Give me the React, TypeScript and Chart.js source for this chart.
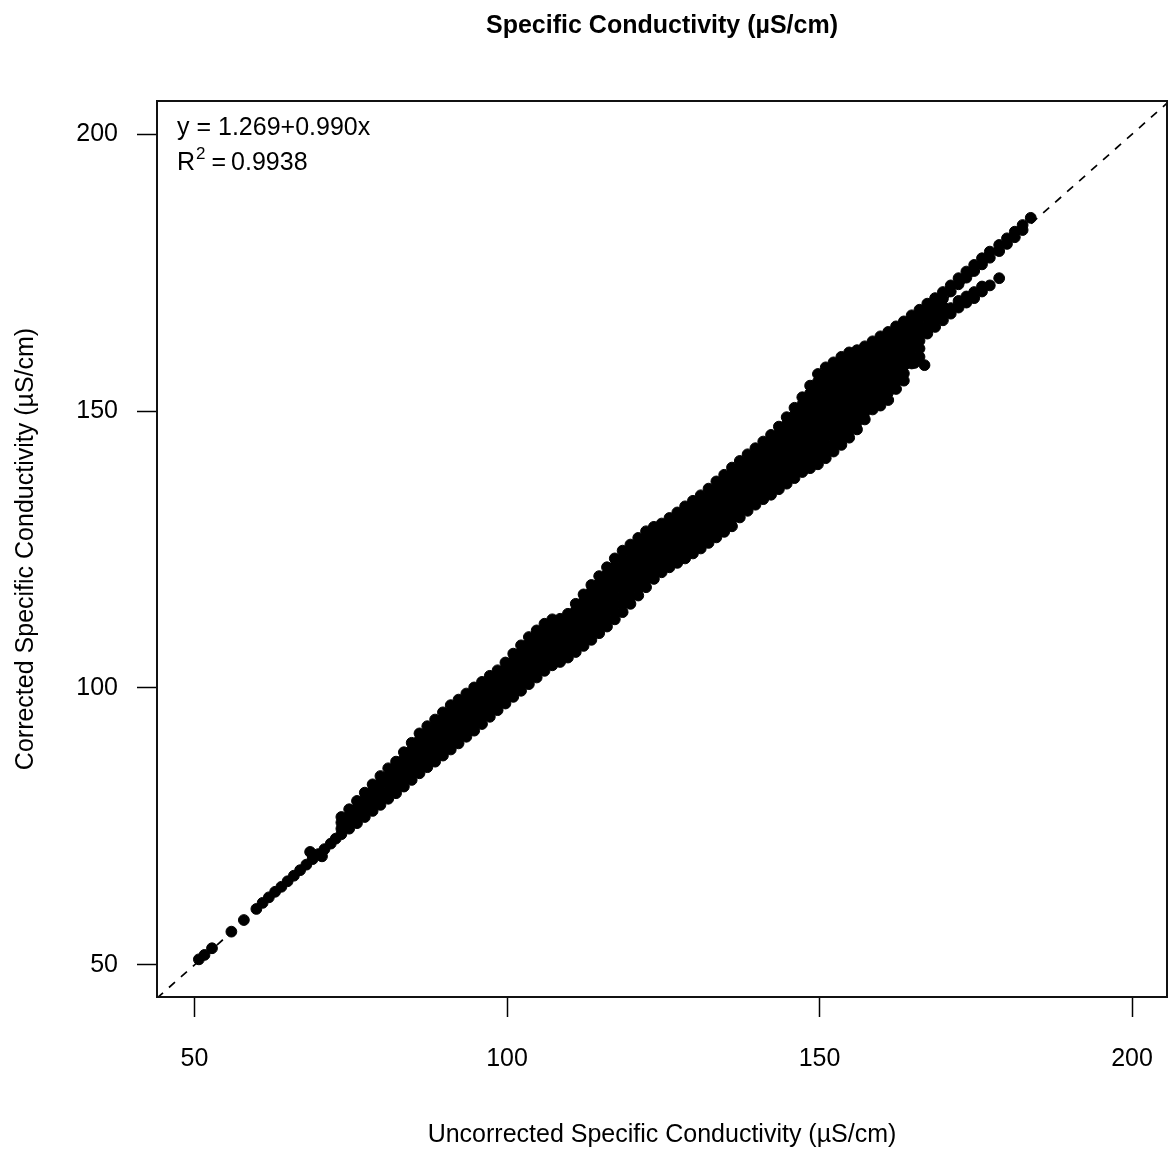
import React, { useEffect, useRef } from "react";
import { Chart, registerables } from "chart.js";

Chart.register(...registerables);

// ---- axis ticks ----
const xTicks = [50, 100, 150, 200];
const yTicks = [50, 100, 150, 200];

// ---- text ----
const chartTitle = "Specific Conductivity (µS/cm)";
const xTitle = "Uncorrected Specific Conductivity (µS/cm)";
const yTitle = "Corrected Specific Conductivity (µS/cm)";
const fitEquation = "y = 1.269+0.990x";
const r2Value = "0.9938";

// ---- 1:1 reference line end points ----
const oneToOne = [44, 206];

// ---- sparse low-end observations ----
const leadX = [50.7, 51.6, 52.8, 55.9, 57.9, 59.9, 60.9, 61.9, 62.9, 63.9, 64.9, 65.9, 66.9, 67.9, 68.5, 68.9, 69.8, 70.4, 70.8, 71.8, 72.6];
const leadY = [51.0, 51.8, 53.0, 56.0, 58.1, 60.1, 61.2, 62.2, 63.2, 64.1, 65.1, 66.1, 67.1, 68.1, 70.4, 69.1, 70.0, 69.6, 70.9, 71.9, 72.8];

// ---- dense cloud: [uncorrected, corrected values ...] ----
const cloudColumns: number[][] = [
  [73.5, 73.6, 74.6, 75.7, 76.7],
  [74.75, 74.6, 75.8, 76.9, 78.1],
  [76, 75.6, 76.9, 78.3, 79.6],
  [77.25, 76.7, 77.8, 78.9, 80.0, 81.1],
  [78.5, 77.8, 79.0, 80.2, 81.4, 82.6],
  [79.75, 78.9, 80.2, 81.5, 82.8, 84.1],
  [81, 80.0, 81.4, 82.8, 84.1, 85.5],
  [82.25, 81.0, 82.1, 83.3, 84.4, 85.6, 86.7],
  [83.5, 82.2, 83.4, 84.7, 85.9, 87.2, 88.4],
  [84.75, 83.4, 84.7, 86.1, 87.4, 88.8, 90.1],
  [86, 84.6, 85.8, 87.0, 88.2, 89.4, 90.6, 91.8],
  [87.25, 85.7, 86.9, 88.2, 89.4, 90.6, 91.9, 93.1],
  [88.5, 86.7, 88.0, 89.2, 90.5, 91.8, 93.0, 94.3],
  [89.75, 87.8, 89.1, 90.4, 91.7, 93.0, 94.3, 95.6],
  [91, 88.9, 90.2, 91.6, 92.9, 94.2, 95.6, 96.9],
  [92.25, 90.0, 91.3, 92.6, 94.0, 95.3, 96.6, 97.9],
  [93.5, 91.2, 92.5, 93.8, 95.1, 96.4, 97.7, 99.0],
  [94.75, 92.3, 93.6, 94.9, 96.2, 97.5, 98.8, 100.1],
  [96, 93.5, 94.8, 96.0, 97.3, 98.6, 99.8, 101.1],
  [97.25, 94.8, 96.0, 97.3, 98.5, 99.7, 101.0, 102.2],
  [98.5, 96.0, 97.2, 98.4, 99.6, 100.8, 102.0, 103.2],
  [99.75, 97.2, 98.4, 99.7, 100.9, 102.1, 103.4, 104.6],
  [101, 98.4, 99.7, 101.0, 102.3, 103.6, 104.9, 106.2],
  [102.25, 99.5, 100.9, 102.2, 103.6, 105.0, 106.3, 107.7],
  [103.5, 100.7, 101.9, 103.1, 104.3, 105.6, 106.8, 108.0, 109.2],
  [104.75, 101.9, 103.1, 104.3, 105.5, 106.8, 108.0, 109.2, 110.4],
  [106, 103.1, 104.3, 105.5, 106.7, 108.0, 109.2, 110.4, 111.6],
  [107.25, 104.1, 105.5, 106.9, 108.3, 109.6, 111.0, 112.4],
  [108.5, 104.7, 106.0, 107.3, 108.6, 109.9, 111.2, 112.5],
  [109.75, 105.5, 106.8, 108.1, 109.5, 110.8, 112.1, 113.4],
  [111, 106.5, 107.7, 109.0, 110.2, 111.5, 112.7, 114.0, 115.2],
  [112.25, 107.6, 108.9, 110.3, 111.6, 112.9, 114.2, 115.6, 116.9],
  [113.5, 108.7, 109.9, 111.2, 112.4, 113.7, 114.9, 116.1, 117.4, 118.6],
  [114.75, 109.9, 111.2, 112.5, 113.8, 115.1, 116.3, 117.6, 118.9, 120.2],
  [116, 111.1, 112.4, 113.8, 115.1, 116.5, 117.8, 119.1, 120.5, 121.8],
  [117.25, 112.4, 113.8, 115.2, 116.5, 117.9, 119.3, 120.7, 122.0, 123.4],
  [118.5, 113.7, 115.1, 116.5, 117.9, 119.3, 120.6, 122.0, 123.4, 124.8],
  [119.75, 115.2, 116.5, 117.9, 119.2, 120.6, 121.9, 123.2, 124.6, 125.9],
  [121, 116.7, 118.0, 119.3, 120.6, 121.9, 123.2, 124.5, 125.8, 127.1],
  [122.25, 118.2, 119.5, 120.7, 122.0, 123.3, 124.5, 125.8, 127.0, 128.3],
  [123.5, 119.7, 121.0, 122.4, 123.7, 125.1, 126.4, 127.8, 129.1],
  [124.75, 120.9, 122.2, 123.4, 124.7, 125.9, 127.2, 128.4, 129.7],
  [126, 121.8, 123.1, 124.3, 125.6, 126.9, 128.2, 129.4, 130.7],
  [127.25, 122.6, 123.9, 125.2, 126.5, 127.8, 129.1, 130.4, 131.7],
  [128.5, 123.4, 124.7, 126.1, 127.4, 128.8, 130.1, 131.5, 132.8],
  [129.75, 124.3, 125.7, 127.0, 128.4, 129.7, 131.1, 132.4, 133.8],
  [131, 125.2, 126.6, 127.9, 129.3, 130.7, 132.1, 133.4, 134.8],
  [132.25, 126.2, 127.6, 129.0, 130.4, 131.8, 133.2, 134.6, 136.0],
  [133.5, 127.2, 128.5, 129.7, 131.0, 132.3, 133.5, 134.8, 136.0, 137.3],
  [134.75, 128.2, 129.5, 130.8, 132.1, 133.4, 134.6, 135.9, 137.2, 138.5],
  [136, 129.2, 130.5, 131.9, 133.2, 134.5, 135.8, 137.2, 138.5, 139.8],
  [137.25, 130.8, 132.1, 133.4, 134.6, 135.9, 137.2, 138.5, 139.7, 141.0],
  [138.5, 132.0, 133.3, 134.6, 135.8, 137.1, 138.4, 139.7, 140.9, 142.2],
  [139.75, 133.1, 134.4, 135.7, 136.9, 138.2, 139.5, 140.8, 142.0, 143.3],
  [141, 134.1, 135.4, 136.7, 138.0, 139.3, 140.6, 141.9, 143.2, 144.5],
  [142.25, 134.9, 136.3, 137.6, 139.0, 140.3, 141.6, 143.0, 144.3, 145.7],
  [143.5, 135.9, 137.2, 138.4, 139.7, 140.9, 142.2, 143.4, 144.7, 145.9, 147.2],
  [144.75, 136.9, 138.2, 139.6, 140.9, 142.2, 143.6, 144.9, 146.2, 147.6, 148.9],
  [146, 137.9, 139.2, 140.4, 141.7, 143.0, 144.3, 145.5, 146.8, 148.1, 149.3, 150.6],
  [147.25, 139.0, 140.4, 141.7, 143.1, 144.4, 145.8, 147.1, 148.5, 149.8, 151.2, 152.5],
  [148.5, 139.7, 141.1, 142.4, 143.8, 145.1, 146.5, 147.8, 149.2, 150.5, 151.9, 153.2, 154.6],
  [149.75, 140.4, 141.8, 143.1, 144.5, 145.8, 147.2, 148.6, 149.9, 151.3, 152.6, 154.0, 155.3, 156.7],
  [151, 141.5, 142.9, 144.2, 145.6, 147.0, 148.3, 149.7, 151.1, 152.4, 153.8, 155.2, 156.5, 157.9],
  [152.25, 142.7, 144.0, 145.4, 146.7, 148.1, 149.4, 150.8, 152.1, 153.4, 154.8, 156.1, 157.5, 158.8],
  [153.5, 143.9, 145.2, 146.6, 147.9, 149.2, 150.5, 151.9, 153.2, 154.5, 155.8, 157.2, 158.5, 159.8],
  [154.75, 145.2, 146.6, 148.0, 149.4, 150.8, 152.2, 153.6, 155.0, 156.4, 157.8, 159.2, 160.6],
  [156, 146.7, 148.0, 149.3, 150.6, 151.9, 153.2, 154.5, 155.8, 157.1, 158.4, 159.7, 161.0],
  [157.25, 148.5, 149.8, 151.1, 152.5, 153.8, 155.1, 156.4, 157.7, 159.1, 160.4, 161.7],
  [158.5, 150.3, 151.7, 153.0, 154.4, 155.8, 157.1, 158.5, 159.9, 161.2, 162.6],
  [159.75, 151.0, 152.4, 153.8, 155.2, 156.6, 157.9, 159.3, 160.7, 162.1, 163.5],
  [161, 152.0, 153.4, 154.7, 156.1, 157.5, 158.8, 160.2, 161.6, 162.9, 164.3],
  [162.25, 154.0, 155.3, 156.5, 157.8, 159.0, 160.3, 161.5, 162.8, 164.0, 165.3],
  [163.5, 155.5, 156.8, 158.2, 159.5, 160.9, 162.2, 163.5, 164.9, 166.2],
  [164.75, 158.6, 159.8, 161.1, 162.3, 163.6, 164.8, 166.1, 167.3],
  [166, 159.8, 161.3, 162.7, 164.1, 165.5, 166.9, 168.3],
  [167.25, 164.0, 165.4, 166.8, 168.1, 169.4],
  [168.5, 165.2, 166.5, 167.8, 169.1, 170.4],
  [169.75, 166.4, 167.6, 168.9, 170.3, 171.5],
  [171, 167.6, 168.6, 171.6, 172.7],
  [172.25, 168.7, 169.9, 172.9, 174.0],
  [173.5, 169.6, 170.7, 174.1, 175.2],
  [174.75, 170.4, 171.5, 175.3, 176.4],
  [176, 171.6, 172.5, 176.5, 177.6],
  [177.25, 172.7, 177.7, 178.8],
  [178.75, 174.0, 178.9, 180.0],
  [180, 180.2, 181.2],
  [181.25, 181.4, 182.4],
  [182.5, 182.7, 183.6],
  [183.8, 184.9],
];

// ---- small low branch near 165 ----
const branchX = [165.2, 166.8];
const branchY = [158.7, 158.3];

const FONT = "'Liberation Sans', Arial, Helvetica, sans-serif";

export default function App() {
  const canvasRef = useRef<HTMLCanvasElement | null>(null);

  useEffect(() => {
    const canvas = canvasRef.current;
    if (!canvas) return;

    const points: { x: number; y: number }[] = [];
    leadX.forEach((x, i) => points.push({ x, y: leadY[i] }));
    cloudColumns.forEach((col) => {
      for (let k = 1; k < col.length; k++) points.push({ x: col[0], y: col[k] });
    });
    branchX.forEach((x, i) => points.push({ x, y: branchY[i] }));

    const frameAndText = {
      id: "frameAndText",
      afterDraw(chart: any) {
        const { ctx, chartArea } = chart;
        ctx.save();
        ctx.strokeStyle = "#111";
        ctx.lineWidth = 2;
        ctx.strokeRect(chartArea.left, chartArea.top, chartArea.right - chartArea.left, chartArea.bottom - chartArea.top);

        ctx.fillStyle = "#000";
        ctx.textAlign = "left";
        ctx.textBaseline = "alphabetic";
        const x0 = chartArea.left + 20;
        ctx.font = `25px ${FONT}`;
        ctx.fillText(fitEquation, x0, chartArea.top + 34);
        const base2 = chartArea.top + 69;
        ctx.fillText("R", x0, base2);
        const wR = ctx.measureText("R").width;
        ctx.font = `17px ${FONT}`;
        ctx.fillText("2", x0 + wR + 1, base2 - 11);
        const w2 = ctx.measureText("2").width;
        ctx.font = `25px ${FONT}`;
        let xx = x0 + wR + 1 + w2 + 6;
        ctx.fillText("=", xx, base2);
        xx += ctx.measureText("=").width + 5;
        ctx.fillText(r2Value, xx, base2);
        ctx.restore();
      },
    };

    const chart = new Chart(canvas, {
      type: "scatter",
      data: {
        datasets: [
          {
            type: "scatter",
            data: points,
            pointRadius: 5.4,
            pointHoverRadius: 5.4,
            pointBackgroundColor: "#000",
            pointBorderColor: "#000",
            pointBorderWidth: 1,
            order: 2,
          } as any,
          {
            type: "line",
            data: oneToOne.map((v) => ({ x: v, y: v })),
            borderColor: "#000",
            borderWidth: 1.7,
            borderDash: [8, 8],
            pointRadius: 0,
            fill: false,
            order: 1,
          } as any,
        ],
      },
      options: {
        responsive: false,
        animation: false,
        devicePixelRatio: 1,
        events: [],
        layout: { autoPadding: false, padding: { left: 0, right: 2, top: 0, bottom: 0 } },
        plugins: {
          legend: { display: false },
          tooltip: { enabled: false },
          title: {
            display: true,
            text: chartTitle,
            fullSize: false,
            color: "#000",
            font: { family: FONT, size: 25, weight: "bold" },
            padding: { top: 11, bottom: 60 },
          },
        },
        scales: {
          x: {
            type: "linear",
            position: "bottom",
            min: 44,
            max: 205.6,
            afterBuildTicks: (s: any) => {
              s.ticks = xTicks.map((v) => ({ value: v }));
            },
            afterFit: (s: any) => {
              s.height = 163;
              s.paddingLeft = 0;
              s.paddingRight = 0;
            },
            ticks: { color: "#000", font: { family: FONT, size: 25 }, padding: 27, maxRotation: 0, autoSkip: false },
            grid: { drawOnChartArea: false, drawTicks: true, tickLength: 20, tickColor: "#000", tickWidth: 1.5 },
            border: { display: false },
            title: { display: true, text: xTitle, color: "#000", font: { family: FONT, size: 25 }, padding: { top: 0, bottom: 10 } },
          },
          y: {
            type: "linear",
            position: "left",
            min: 44.2,
            max: 206,
            afterBuildTicks: (s: any) => {
              s.ticks = yTicks.map((v) => ({ value: v }));
            },
            afterFit: (s: any) => {
              s.width = 157;
              s.paddingTop = 0;
              s.paddingBottom = 0;
            },
            ticks: { color: "#000", font: { family: FONT, size: 25 }, padding: 19, autoSkip: false },
            grid: { drawOnChartArea: false, drawTicks: true, tickLength: 20, tickColor: "#000", tickWidth: 1.5 },
            border: { display: false },
            title: { display: true, text: yTitle, color: "#000", font: { family: FONT, size: 25 }, padding: { top: 11, bottom: 0 } },
          },
        },
      } as any,
      plugins: [frameAndText],
    });

    return () => chart.destroy();
  }, []);

  return (
    <div style={{ position: "absolute", left: 0, top: 0, width: 1169, height: 1160, background: "#fff" }}>
      <canvas ref={canvasRef} width={1169} height={1160} style={{ display: "block" }} />
    </div>
  );
}
